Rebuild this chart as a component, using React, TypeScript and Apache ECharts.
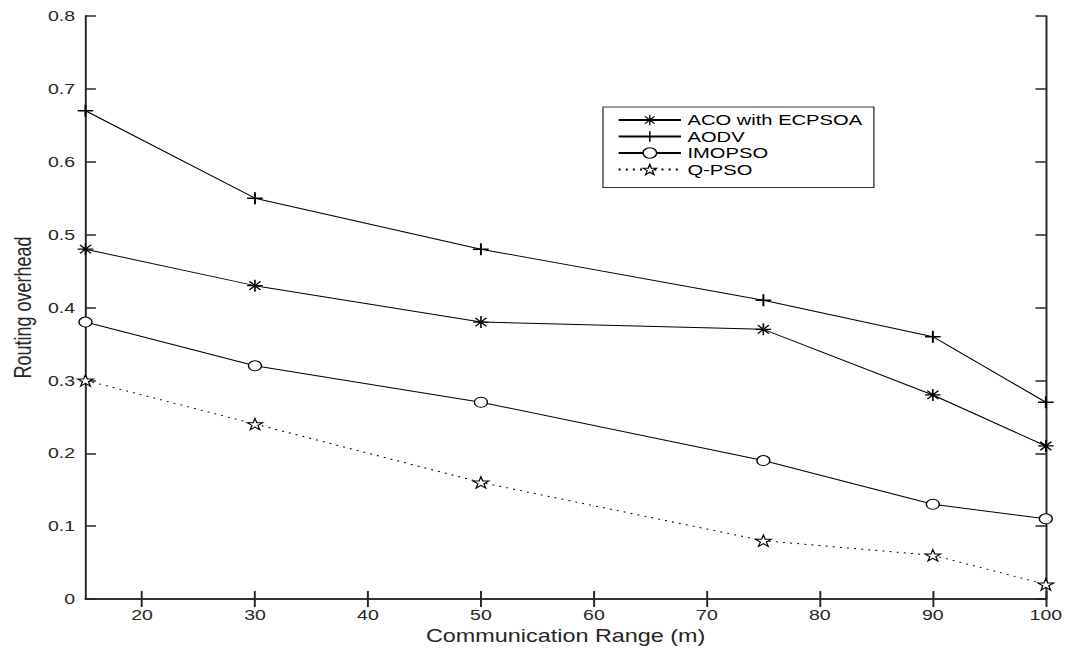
import React, { useEffect, useRef } from "react";
import * as echarts from "echarts";

const xValues = [15, 30, 50, 75, 90, 100];
const acoEcpsoa = [0.48, 0.43, 0.38, 0.37, 0.28, 0.21];
const aodv = [0.67, 0.55, 0.48, 0.41, 0.36, 0.27];
const imopso = [0.38, 0.32, 0.27, 0.19, 0.13, 0.11];
const qpso = [0.3, 0.24, 0.16, 0.08, 0.06, 0.02];
const xTicks = [20, 30, 40, 50, 60, 70, 80, 90, 100];
const seriesNames = ["ACO with ECPSOA", "AODV", "IMOPSO", "Q-PSO"];

const STRETCH = 1.3;
const W = 1066 / STRETCH;
const H = 652;
const FONT = "'Liberation Sans', Arial, Helvetica, sans-serif";
const INK = "#262626";

const asteriskPath =
  "path://M12,0 L12,24 M0,12 L24,12 M3.5,3.5 L20.5,20.5 M3.5,20.5 L20.5,3.5";
const plusPath = "path://M12,0 L12,24 M0,12 L24,12";
const starPath =
  "path://M50,0 L61.23,34.55 L97.55,34.55 L68.17,55.9 L79.39,90.45 L50,69.1 L20.61,90.45 L31.83,55.9 L2.45,34.55 L38.77,34.55 Z";

const pair = (ys: number[]) => xValues.map((x, i) => [x, ys[i]]);

export default function App() {
  const ref = useRef<HTMLDivElement>(null);
  useEffect(() => {
    if (!ref.current) return;
    const chart = echarts.init(ref.current, undefined, { renderer: "svg" });
    const axisLine = { show: true, lineStyle: { color: INK, width: 1.5 } };
    const tick = (vals?: number[]) => ({
      show: true,
      inside: true,
      length: 8,
      lineStyle: { color: INK, width: 1.5 },
      ...(vals ? { customValues: vals } : {}),
    });
    const lineBase = {
      type: "line" as const,
      xAxisIndex: 0,
      yAxisIndex: 0,
      symbolKeepAspect: true,
      emphasis: { disabled: true },
    };
    chart.setOption({
      animation: false,
      textStyle: { fontFamily: FONT, color: INK },
      grid: { left: 79 / STRETCH, right: W - 1046 / STRETCH, top: 16, bottom: 53, containLabel: false },
      legend: {
        orient: "vertical",
        left: 603 / STRETCH,
        top: 107,
        width: 205,
        padding: [5, 9, 10, 11],
        itemWidth: 48,
        itemHeight: 13,
        itemGap: 0.5,
        backgroundColor: "#fff",
        borderColor: "#333",
        borderWidth: 1,
        borderRadius: 0,
        textStyle: { fontFamily: FONT, fontSize: 15.5, color: "#000", lineHeight: 16 },
        data: [
          { name: seriesNames[0], itemStyle: { borderWidth: 1 } },
          { name: seriesNames[1], itemStyle: { borderWidth: 1.2 } },
          { name: seriesNames[2], itemStyle: { borderWidth: 1 } },
          { name: seriesNames[3], itemStyle: { borderWidth: 1 } },
        ],
      },
      xAxis: [
        {
          type: "value",
          min: 15,
          max: 100,
          position: "bottom",
          name: "Communication Range (m)",
          nameLocation: "middle",
          nameGap: 20,
          nameTextStyle: { fontFamily: FONT, fontSize: 18, color: INK },
          axisLine,
          axisTick: tick(xTicks),
          axisLabel: { customValues: xTicks, fontFamily: FONT, fontSize: 15, color: INK, margin: 8 },
          splitLine: { show: false },
        },
        {
          type: "value",
          min: 15,
          max: 100,
          position: "top",
          axisLine,
          axisTick: tick(xTicks),
          axisLabel: { show: false },
          splitLine: { show: false },
        },
      ],
      yAxis: [
        {
          type: "value",
          min: 0,
          max: 0.8,
          interval: 0.1,
          position: "left",
          name: "Routing overhead",
          nameLocation: "middle",
          nameGap: 37,
          nameTextStyle: { fontFamily: FONT, fontSize: 18, color: INK },
          axisLine,
          axisTick: tick(),
          axisLabel: { fontFamily: FONT, fontSize: 15, color: INK, margin: 8 },
          splitLine: { show: false },
        },
        {
          type: "value",
          min: 0,
          max: 0.8,
          interval: 0.1,
          position: "right",
          axisLine,
          axisTick: tick(),
          axisLabel: { show: false },
          splitLine: { show: false },
        },
      ],
      series: [
        {
          ...lineBase,
          name: seriesNames[0],
          data: pair(acoEcpsoa),
          symbol: asteriskPath,
          symbolSize: 12,
          lineStyle: { color: "#000", width: 1 },
          itemStyle: { color: "#000", borderColor: "#000", borderWidth: 1.2 },
        },
        {
          ...lineBase,
          name: seriesNames[1],
          data: pair(aodv),
          symbol: plusPath,
          symbolSize: 12,
          lineStyle: { color: "#000", width: 1 },
          itemStyle: { color: "#000", borderColor: "#000", borderWidth: 1.5 },
        },
        {
          ...lineBase,
          name: seriesNames[2],
          data: pair(imopso),
          symbol: "circle",
          symbolSize: 10,
          lineStyle: { color: "#000", width: 1 },
          itemStyle: { color: "#fff", borderColor: "#000", borderWidth: 1 },
        },
        {
          ...lineBase,
          name: seriesNames[3],
          data: pair(qpso),
          symbol: starPath,
          symbolSize: 12,
          lineStyle: { color: "#000", width: 1, type: [1.5, 4] },
          itemStyle: { color: "#fff", borderColor: "#000", borderWidth: 1 },
        },
      ],
    });
    return () => chart.dispose();
  }, []);
  return (
    <div
      ref={ref}
      style={{
        position: "absolute",
        left: 0,
        top: 0,
        width: W,
        height: H,
        transform: `scaleX(${STRETCH})`,
        transformOrigin: "0 0",
        background: "#fff",
      }}
    />
  );
}
